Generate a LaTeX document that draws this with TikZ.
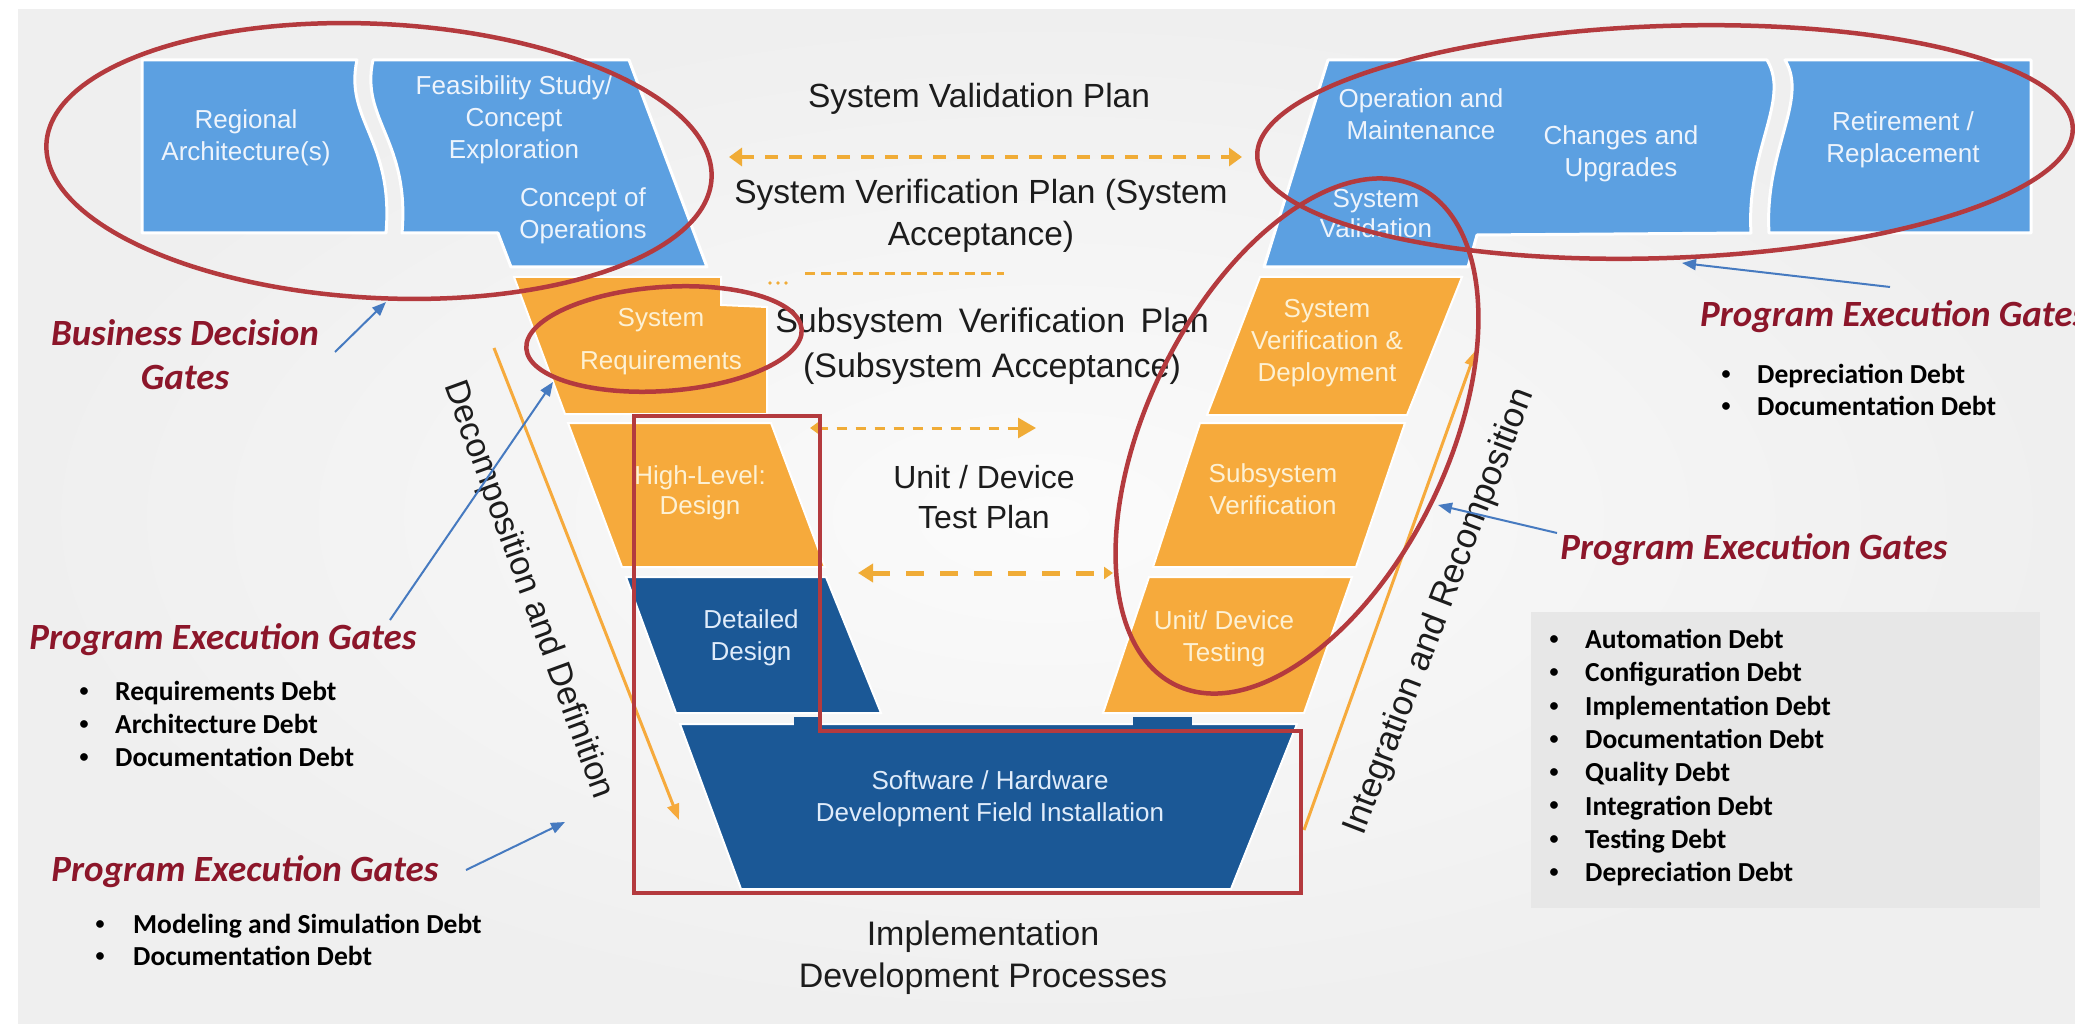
\documentclass[tikz,border=0pt]{standalone}
\usepackage{fontspec}
\setmainfont{Liberation Sans}
\newfontfamily\calfont{Carlito}
\usetikzlibrary{arrows.meta,calc}
\definecolor{lblue}{RGB}{92,160,225}
\definecolor{dblue}{RGB}{27,88,150}
\definecolor{orng}{RGB}{246,170,60}
\definecolor{annred}{RGB}{180,58,62}
\definecolor{dashor}{RGB}{240,172,55}
\definecolor{arrblue}{RGB}{70,122,192}
\definecolor{gatered}{RGB}{140,22,42}
\definecolor{txtlb}{RGB}{238,244,252}
\definecolor{txtor}{RGB}{253,241,212}
\definecolor{txtdb}{RGB}{224,236,250}
\definecolor{bgin}{RGB}{251,251,251}
\definecolor{bgout}{RGB}{239,239,239}
\definecolor{boxgray}{RGB}{231,231,231}
\definecolor{darktxt}{RGB}{28,28,28}
\begin{document}
\begin{tikzpicture}[x=1pt,y=-1pt,
  blocktxt/.style={align=center,inner sep=0pt,font=\fontsize{26}{32}\selectfont},
  lbtxt/.style={blocktxt,text=txtlb},
  ortxt/.style={blocktxt,text=txtor},
  dbtxt/.style={blocktxt,text=txtdb},
  plantxt/.style={align=center,inner sep=0pt,text=darktxt,font=\fontsize{34}{42}\selectfont},
  gatetxt/.style={align=center,inner sep=0pt,text=gatered,font={\calfont\bfseries\itshape\fontsize{37}{44}\selectfont}},
  debttxt/.style={inner sep=0pt,anchor=west,text height=17pt,text depth=0pt,text=black,font={\calfont\bfseries\fontsize{27.5}{32}\selectfont}},
  bultxt/.style={inner sep=0pt,anchor=center,text=black,font={\calfont\bfseries\fontsize{18}{20}\selectfont}},
  lbshape/.style={fill=lblue,draw=white,line width=3pt,line join=round},
  orshape/.style={fill=orng,draw=white,line width=2pt},
  dbshape/.style={fill=dblue,draw=white,line width=2pt},
  annot/.style={draw=annred,line width=4.5pt,line join=round},
  dashline/.style={draw=dashor,line width=4pt},
  bluearrow/.style={draw=arrblue,line width=2pt,-{Triangle[length=14pt,width=11pt]}},
  orarrow/.style={draw=orng,line width=3pt,-{Triangle[length=16pt,width=12pt]}}
]
\useasboundingbox (0,0) rectangle (2075,1024);
% background
\fill[white] (0,0) rectangle (2075,1024);
\shade[inner color=bgin,outer color=bgout] (18,10) rectangle (2075,1024);
\fill[boxgray] (1531,612) rectangle (2040,908);

% ---- top left blue shapes
\path[lbshape] (142,60) -- (357,60) .. controls (344,120) and (394,140) .. (386,233) -- (142,233) -- cycle;
\path[lbshape] (373,60) -- (629,60) -- (707,267) -- (511,267) -- (498,233) -- (402,233) .. controls (410,140) and (360,120) .. (373,60) -- cycle;
% ---- top right blue shapes
\path[lbshape] (1328,60) -- (1767,60) .. controls (1791,100) and (1746,150) .. (1751,233) -- (1477,235) -- (1468,267) -- (1264,267) -- cycle;
\path[lbshape] (1785,60) -- (2031,60) -- (2031,233) -- (1769,233) .. controls (1764,150) and (1809,100) .. (1785,60) -- cycle;

% ---- left arm
\path[orshape] (514,277) -- (721,277) -- (721,305) -- (767,307) -- (767,414) -- (565,414) -- cycle;
\path[orshape] (568,423) -- (771,423) -- (825,567) -- (622,567) -- cycle;
\path[dbshape] (626,577) -- (826,577) -- (881,713) -- (676,713) -- cycle;
\path[dbshape] (680,724) -- (1297,724) -- (1231,889) -- (741,889) -- cycle;
\fill[dblue] (794,717) rectangle (819,726);
\fill[dblue] (1133,717) rectangle (1192,726);
% ---- right arm
\path[orshape] (1260,277) -- (1462,277) -- (1407,415) -- (1207,415) -- cycle;
\path[orshape] (1200,423) -- (1405,423) -- (1356,567) -- (1153,567) -- cycle;
\path[orshape] (1149,577) -- (1352,577) -- (1304,713) -- (1103,713) -- cycle;

% ---- block texts
\node[lbtxt] (regional) at (246,138) {Regional\\Architecture(s)};
\node[lbtxt] (feas) at (514,120) {Feasibility Study/\\Concept\\Exploration};
\node[lbtxt] (conops) at (583,216) {Concept of\\Operations};
\node[lbtxt] (opm) at (1421,114) {Operation and\\Maintenance};
\node[lbtxt] (chg) at (1621,154) {Changes and\\Upgrades};
\node[lbtxt] (retire) at (1903,140) {Retirement /\\Replacement};
\node[lbtxt,font=\fontsize{26}{30}\selectfont] (sysval) at (1376,214) {System\\Validation};
\node[ortxt,font=\fontsize{26}{43}\selectfont] (sysreq) at (661,342) {System\\Requirements};
\node[ortxt,font=\fontsize{26}{30}\selectfont] (hld) at (700,493) {High-Level:\\Design};
\node[dbtxt] (dd) at (751,638) {Detailed\\Design};
\node[dbtxt] (swhw) at (990,799) {Software / Hardware\\Development Field Installation};
\node[ortxt] (svd) at (1327,343) {System\\Verification \&\\Deployment};
\node[ortxt] (ssv) at (1273,489) {Subsystem\\Verification};
\node[ortxt] (udt) at (1224,639) {Unit/ Device\\Testing};

% ---- plan texts
\node[plantxt,font=\fontsize{33.5}{42}\selectfont] (svp) at (979,99) {System Validation Plan};
\node[plantxt,font=\fontsize{33.5}{42}\selectfont] (sverp) at (981,216) {System Verification Plan (System\\Acceptance)};
\node[plantxt,font=\fontsize{34}{45}\selectfont] (subp) at (992,346) {Subsystem\hspace{6pt} Verification\hspace{6pt} Plan\\(Subsystem Acceptance)};
\node[plantxt,font=\fontsize{32}{40}\selectfont] (unitp) at (984,497) {Unit / Device\\Test Plan};
\node[plantxt,font=\fontsize{34}{42}\selectfont] (impl) at (983,958) {Implementation\\Development Processes};
\node[plantxt,rotate=-70] (decomp) at (528,590) {Decomposition and Definition};
\node[plantxt,font=\fontsize{35}{42}\selectfont,rotate=69] (integ) at (1440,612) {Integration and Recomposition};

% ---- dashed arrows
\coordinate (d1a) at (729,157); \coordinate (d1b) at (1242,157);
\draw[dashline,dash pattern=on 13pt off 11pt,{Triangle[length=13pt,width=18pt]}-{Triangle[length=13pt,width=18pt]}] (d1a) -- (d1b);
\coordinate (d2a) at (805,274); \coordinate (d2b) at (1004,274);
\draw[dashline,line width=3pt,dash pattern=on 10pt off 6pt] (d2a) -- (d2b);
\foreach \xx in {770,778,786} \fill[dashor] (\xx,283) circle (1.8pt);
\coordinate (d3a) at (810,428); \coordinate (d3b) at (1036,428);
\draw[dashline,line width=3pt,dash pattern=on 10pt off 9pt,{Triangle[length=8pt,width=11pt]}-{Triangle[length=18pt,width=20pt]}] (d3a) -- (d3b);
\coordinate (d4a) at (858,573); \coordinate (d4b) at (1113,573);
\draw[dashline,line width=5pt,dash pattern=on 18pt off 16pt,{Triangle[length=15pt,width=18pt]}-{Triangle[length=9pt,width=12pt]}] (d4a) -- (d4b);

% ---- orange process arrows
\coordinate (olA) at (494,348); \coordinate (olB) at (679,820);
\draw[orarrow] (olA) -- (olB);
\coordinate (orA) at (1304,830); \coordinate (orB) at (1476,350);
\draw[orarrow] (orA) -- (orB);

% ---- red annotations
\coordinate (e1c) at (379,161);
\draw[annot,rotate around={-3:(e1c)}] (e1c) ellipse [x radius=333pt,y radius=137pt];
\coordinate (e2c) at (1665,142);
\draw[annot,rotate around={2:(e2c)}] (e2c) ellipse [x radius=408pt,y radius=116pt];
\coordinate (e3c) at (1297,436);
\draw[annot,rotate around={64:(e3c)}] (e3c) ellipse [x radius=277pt,y radius=150pt];
\coordinate (e4c) at (664,339);
\draw[annot,rotate around={4:(e4c)}] (e4c) ellipse [x radius=138pt,y radius=52pt];
\draw[annot,line join=miter] (634,416) -- (634,893) -- (1301,893) -- (1301,731) -- (820,731) -- (820,416) -- cycle;

% ---- gate labels
\node[gatetxt] (bdg) at (185,355) {Business Decision\\Gates};
\node[gatetxt] (peg1) at (223,640) {Program Execution Gates};
\node[gatetxt] (peg2) at (245,872) {Program Execution Gates};
\node[gatetxt,anchor=west] (peg3) at (1700,317) {Program Execution Gates};
\node[gatetxt] (peg4) at (1754,550) {Program Execution Gates};

% ---- blue arrows
\coordinate (ba1) at (335,352); \coordinate (bt1) at (386,302);
\draw[bluearrow] (ba1) -- (bt1);
\coordinate (ba2) at (390,620); \coordinate (bt2) at (553,382);
\draw[bluearrow] (ba2) -- (bt2);
\coordinate (ba3) at (466,870); \coordinate (bt3) at (565,822);
\draw[bluearrow] (ba3) -- (bt3);
\coordinate (ba4) at (1557,533); \coordinate (bt4) at (1438,505);
\draw[bluearrow] (ba4) -- (bt4);
\coordinate (ba5) at (1890,287); \coordinate (bt5) at (1682,263);
\draw[bluearrow] (ba5) -- (bt5);

% ---- debt lists
\foreach \t [count=\i from 0] in {Requirements Debt,Architecture Debt,Documentation Debt} {
  \node[bultxt] (la\i) at (84,{692+33*\i}) {•};
  \node[debttxt] (lt\i) at (115,{692+33*\i}) {\t};
}
\foreach \t [count=\i from 0] in {Modeling and Simulation Debt,Documentation Debt} {
  \node[bultxt] (ma\i) at (100,{925+32*\i}) {•};
  \node[debttxt] (mt\i) at (133,{925+32*\i}) {\t};
}
\foreach \t [count=\i from 0] in {Depreciation Debt,Documentation Debt} {
  \node[bultxt] (ra\i) at (1726,{375+32*\i}) {•};
  \node[debttxt] (rt\i) at (1757,{375+32*\i}) {\t};
}
\foreach \t [count=\i from 0] in {Automation Debt,Configuration Debt,Implementation Debt,Documentation Debt,Quality Debt,Integration Debt,Testing Debt,Depreciation Debt} {
  \node[bultxt] (bb\i) at (1554,{640+33.3*\i}) {•};
  \node[debttxt] (bx\i) at (1585,{640+33.3*\i}) {\t};
}
\end{tikzpicture}
\end{document}
